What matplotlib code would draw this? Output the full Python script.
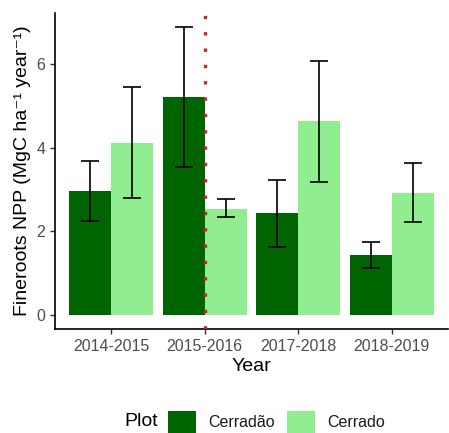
import numpy as np
import matplotlib.pyplot as plt
from matplotlib.patches import Patch

plt.rcParams['font.family'] = ['Liberation Sans', 'DejaVu Sans']

years = ['2014-2015', '2015-2016', '2017-2018', '2018-2019']
plots = ['Cerradão', 'Cerrado']
colors = ['#006400', '#90EE90']

# mean fine-root NPP with lower / upper error limits
npp_cerradao = [2.96, 5.20, 2.44, 1.43]
low_cerradao = [2.25, 3.53, 1.63, 1.12]
high_cerradao = [3.67, 6.88, 3.23, 1.75]

npp_cerrado = [4.11, 2.54, 4.63, 2.92]
low_cerrado = [2.79, 2.33, 3.17, 2.21]
high_cerrado = [5.46, 2.76, 6.07, 3.64]

means = [npp_cerradao, npp_cerrado]
lows = [low_cerradao, low_cerrado]
highs = [high_cerradao, high_cerrado]

fig = plt.figure(figsize=(4.49, 4.33), dpi=100)
ax = fig.add_axes([55 / 449, 104 / 433, 393 / 449, 316 / 433])

x = np.arange(1, len(years) + 1)
width = 0.45
for i in range(2):
    pos = x + (i - 0.5) * width
    m = np.array(means[i])
    ax.bar(pos, m, width=width, color=colors[i], zorder=2)
    err = [m - np.array(lows[i]), np.array(highs[i]) - m]
    ax.errorbar(pos, m, yerr=err, fmt='none', ecolor='black',
                elinewidth=1.2, capsize=6.5, capthick=1.2, zorder=3)

# El Niño year marker
ax.axvline(2, color='#C42424', linewidth=2.4, linestyle=(0, (1, 3.9)), zorder=4)

ax.set_xlim(0.4, 4.6)
ax.set_ylim(-0.344, 7.22)
ax.set_xticks(x)
ax.set_xticklabels(years)
ax.set_yticks([0, 2, 4, 6])

for side in ['top', 'right']:
    ax.spines[side].set_visible(False)
for side in ['left', 'bottom']:
    ax.spines[side].set_linewidth(1.2)
ax.tick_params(colors='#333333', labelcolor='#4D4D4D', labelsize=11.5,
               length=3.5, width=1)

ax.set_xlabel('Year', fontsize=14, labelpad=3)
ax.set_ylabel('Fineroots NPP (MgC ha⁻¹ year⁻¹)', fontsize=14, labelpad=4)

# legend row at the bottom: title then keys
fig.text(124 / 449, 1 - 422 / 433, 'Plot', fontsize=14, va='center', ha='left')
handles = [Patch(facecolor=c, edgecolor='none') for c in colors]
fig.legend(handles, plots, loc='center left', bbox_to_anchor=(154 / 449, 1 - 422 / 433),
           ncol=2, frameon=False, fontsize=11.5, labelcolor='#1A1A1A',
           handlelength=1.75, handleheight=1.75, handletextpad=0.75,
           columnspacing=0.75)

fig.savefig('out.png', dpi=100)
